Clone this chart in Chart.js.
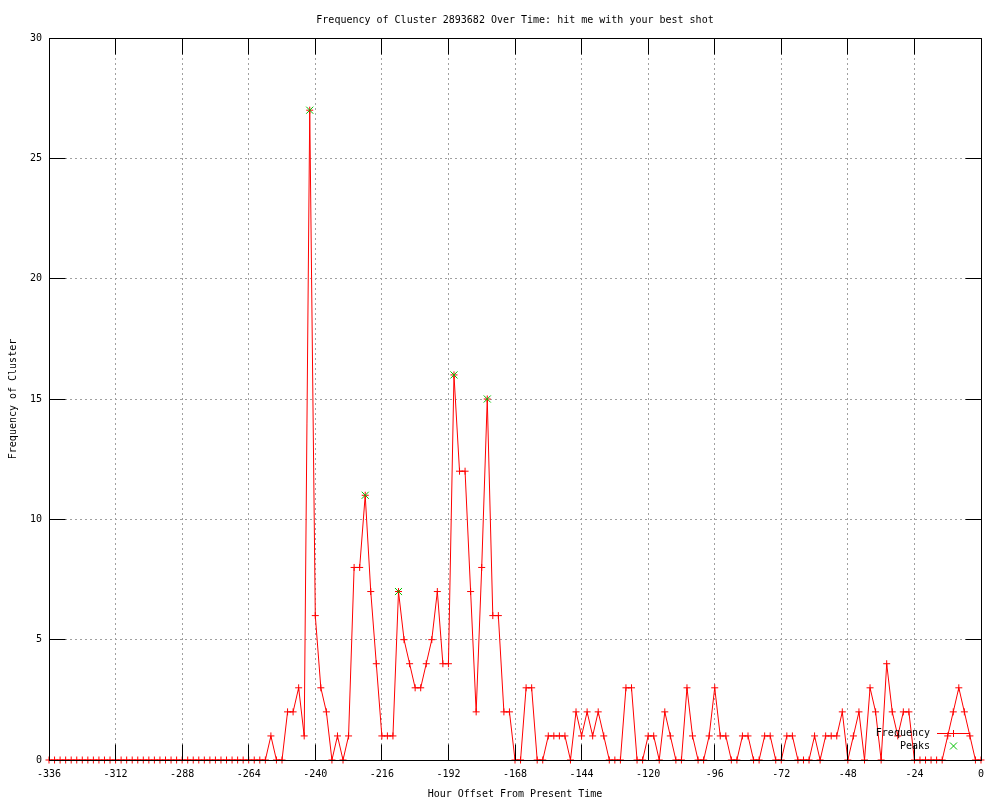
<!DOCTYPE html>
<html>
<head>
<meta charset="utf-8">
<style>
  html, body { margin: 0; padding: 0; background: #fff; }
  canvas { display: block; }
</style>
<script src="https://cdn.jsdelivr.net/npm/chart.js@4.4.1/dist/chart.umd.min.js"></script>
</head>
<body>
<canvas id="c" width="1000" height="800"></canvas>
<script>
const titleText = 'Frequency of Cluster 2893682 Over Time: hit me with your best shot';
const xAxisLabel = 'Hour Offset From Present Time';
const yAxisLabel = 'Frequency of Cluster';

const hours = [
  -336,-334,-332,-330,-328,-326,-324,-322,-320,-318,-316,-314,-312,-310,-308,-306,-304,-302,-300,-298,
  -296,-294,-292,-290,-288,-286,-284,-282,-280,-278,-276,-274,-272,-270,-268,-266,-264,-262,-260,-258,
  -256,-254,-252,-250,-248,-246,-244,-242,-240,-238,-236,-234,-232,-230,-228,-226,-224,-222,-220,-218,
  -216,-214,-212,-210,-208,-206,-204,-202,-200,-198,-196,-194,-192,-190,-188,-186,-184,-182,-180,-178,
  -176,-174,-172,-170,-168,-166,-164,-162,-160,-158,-156,-154,-152,-150,-148,-146,-144,-142,-140,-138,
  -136,-134,-132,-130,-128,-126,-124,-122,-120,-118,-116,-114,-112,-110,-108,-106,-104,-102,-100,-98,
  -96,-94,-92,-90,-88,-86,-84,-82,-80,-78,-76,-74,-72,-70,-68,-66,-64,-62,-60,-58,
  -56,-54,-52,-50,-48,-46,-44,-42,-40,-38,-36,-34,-32,-30,-28,-26,-24,-22,-20,-18,
  -16,-14,-12,-10,-8,-6,-4,-2,0
];
const frequency = [
  0,0,0,0,0,0,0,0,0,0,0,0,0,0,0,0,0,0,0,0,
  0,0,0,0,0,0,0,0,0,0,0,0,0,0,0,0,0,0,0,0,
  1,0,0,2,2,3,1,27,6,3,2,0,1,0,1,8,8,11,7,4,
  1,1,1,7,5,4,3,3,4,5,7,4,4,16,12,12,7,2,8,15,
  6,6,2,2,0,0,3,3,0,0,1,1,1,1,0,2,1,2,1,2,
  1,0,0,0,3,3,0,0,1,1,0,2,1,0,0,3,1,0,0,1,
  3,1,1,0,0,1,1,0,0,1,1,0,0,1,1,0,0,0,1,0,
  1,1,1,2,0,1,2,0,3,2,0,4,2,1,2,2,0,0,0,0,
  0,0,1,2,3,2,1,0,0
];
const peakHours = [-242, -222, -210, -190, -178];
const peakValues = [27, 11, 7, 16, 15];

const xTicks = [-336,-312,-288,-264,-240,-216,-192,-168,-144,-120,-96,-72,-48,-24,0];
const yTicks = [0,5,10,15,20,25,30];

const FONT = 'DejaVu Sans Mono';
const RED = '#ff0000';
const GREEN = '#00c000';

const freqData = hours.map((h, i) => ({x: h, y: frequency[i]}));
const peakData = peakHours.map((h, i) => ({x: h, y: peakValues[i]}));

function al(p) { return Math.round(p - 0.5) + 0.5; }

const framePlugin = {
  id: 'framePlugin',
  afterDatasetsDraw(chart) {
    const {ctx, chartArea: a, scales: {x, y}} = chart;
    const L = al(a.left), R = al(a.right), T = al(a.top), B = al(a.bottom);
    ctx.save();
    ctx.strokeStyle = '#000';
    ctx.lineWidth = 1;
    ctx.setLineDash([]);
    ctx.beginPath();
    ctx.rect(L, T, R - L, B - T);
    const tl = 16;
    xTicks.forEach(v => {
      const px = al(x.getPixelForValue(v));
      ctx.moveTo(px, B); ctx.lineTo(px, B - tl);
      ctx.moveTo(px, T); ctx.lineTo(px, T + tl);
    });
    yTicks.forEach(v => {
      const py = al(y.getPixelForValue(v));
      ctx.moveTo(L, py); ctx.lineTo(L + tl, py);
      ctx.moveTo(R, py); ctx.lineTo(R - tl, py);
    });
    ctx.stroke();
    ctx.restore();
  },
  afterDraw(chart) {
    const {ctx, chartArea: a} = chart;
    ctx.save();
    ctx.fillStyle = '#000';
    ctx.font = '10px "' + FONT + '"';
    ctx.textBaseline = 'alphabetic';
    ctx.textAlign = 'center';
    const cx = (a.left + a.right) / 2;
    ctx.fillText(titleText, cx, 23);
    ctx.fillText(xAxisLabel, cx, 797);
    ctx.save();
    ctx.translate(16, (a.top + a.bottom) / 2);
    ctx.rotate(-Math.PI / 2);
    ctx.fillText(yAxisLabel, 0, 0);
    ctx.restore();

    // legend
    ctx.textAlign = 'right';
    ctx.fillText('Frequency', 930, 736);
    ctx.fillText('Peaks', 930, 749);
    ctx.strokeStyle = RED;
    ctx.lineWidth = 1;
    ctx.beginPath();
    ctx.moveTo(937, 733.5); ctx.lineTo(970, 733.5);
    ctx.moveTo(950, 733.5); ctx.lineTo(957, 733.5);
    ctx.moveTo(953.5, 730); ctx.lineTo(953.5, 737);
    ctx.stroke();
    ctx.strokeStyle = GREEN;
    ctx.beginPath();
    ctx.moveTo(950, 742.5); ctx.lineTo(957, 749.5);
    ctx.moveTo(957, 742.5); ctx.lineTo(950, 749.5);
    ctx.stroke();
    ctx.restore();
  }
};

new Chart(document.getElementById('c'), {
  type: 'line',
  data: {
    datasets: [
      {
        label: 'Peaks',
        data: peakData,
        showLine: false,
        pointStyle: 'crossRot',
        pointRadius: 5,
        pointBorderColor: GREEN,
        pointBackgroundColor: GREEN,
        pointBorderWidth: 1,
        borderColor: GREEN,
        clip: false,
        order: 0
      },
      {
        label: 'Frequency',
        data: freqData,
        borderColor: RED,
        borderWidth: 1,
        tension: 0,
        fill: false,
        pointStyle: 'cross',
        pointRadius: 3.5,
        pointBorderColor: RED,
        pointBackgroundColor: RED,
        pointBorderWidth: 1,
        clip: false,
        order: 1
      }
    ]
  },
  options: {
    responsive: false,
    devicePixelRatio: 1,
    animation: false,
    events: [],
    layout: { padding: { top: 38, right: 19, left: 0, bottom: 0 } },
    plugins: {
      legend: { display: false },
      title: { display: false },
      tooltip: { enabled: false }
    },
    scales: {
      x: {
        type: 'linear',
        min: -336,
        max: 0,
        afterFit(scale) { scale.height = 40; },
        afterBuildTicks(scale) { scale.ticks = xTicks.map(v => ({value: v})); },
        ticks: {
          autoSkip: false,
          maxRotation: 0,
          minRotation: 0,
          padding: 8,
          color: '#000',
          font: { family: FONT, size: 10 }
        },
        grid: { color: '#a0a0a0', lineWidth: 1, drawTicks: false },
        border: { display: true, color: '#000', width: 1, dash: [2, 3] }
      },
      y: {
        type: 'linear',
        min: 0,
        max: 30,
        afterFit(scale) { scale.width = 49; },
        afterBuildTicks(scale) { scale.ticks = yTicks.map(v => ({value: v})); },
        ticks: {
          padding: 7,
          color: '#000',
          font: { family: FONT, size: 10 }
        },
        grid: { color: '#a0a0a0', lineWidth: 1, drawTicks: false },
        border: { display: true, color: '#000', width: 1, dash: [2, 3] }
      }
    }
  },
  plugins: [framePlugin]
});
</script>
</body>
</html>
